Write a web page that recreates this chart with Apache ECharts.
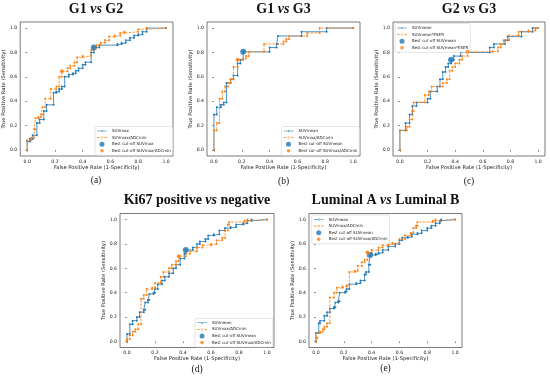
<!DOCTYPE html>
<html><head><meta charset="utf-8">
<script src="https://cdn.jsdelivr.net/npm/echarts@6/dist/echarts.min.js"></script>
<style>html,body{margin:0;padding:0;background:#fff}#c{width:550px;height:376px}</style>
</head><body><div id="c"></div>
<script>
const ticks = [0, 0.2, 0.4, 0.6, 0.8, 1.0];

// (a) G1 vs G2
const aSuvmaxFpr = [0, 0.02, 0.04, 0.07, 0.09, 0.12, 0.14, 0.19, 0.21, 0.23, 0.25, 0.27, 0.30, 0.33, 0.35, 0.37, 0.40, 0.42, 0.46, 0.48, 0.52, 0.65, 0.68, 0.71, 0.74, 0.77, 0.80, 0.83, 0.86, 1.0];
const aSuvmaxTpr = [0.07, 0.09, 0.12, 0.22, 0.25, 0.32, 0.37, 0.47, 0.48, 0.50, 0.52, 0.60, 0.62, 0.63, 0.65, 0.67, 0.70, 0.72, 0.80, 0.84, 0.86, 0.87, 0.88, 0.90, 0.92, 0.94, 0.95, 0.97, 1.0, 1.0];
const aRatioFpr = [0, 0.03, 0.05, 0.06, 0.08, 0.10, 0.11, 0.13, 0.17, 0.21, 0.23, 0.25, 0.29, 0.31, 0.34, 0.36, 0.40, 0.46, 0.48, 0.50, 0.53, 0.56, 0.59, 0.63, 0.67, 0.70, 0.80, 0.86, 1.0];
const aRatioTpr = [0.08, 0.10, 0.17, 0.26, 0.27, 0.29, 0.35, 0.42, 0.50, 0.52, 0.60, 0.645, 0.67, 0.69, 0.72, 0.76, 0.77, 0.82, 0.84, 0.86, 0.88, 0.90, 0.93, 0.94, 0.96, 0.97, 0.99, 1.0, 1.0];
const aCutSuvmax = [0.48, 0.84];
const aCutRatio = [0.25, 0.645];

// (b) G1 vs G3
const bMeanFpr = [0, 0.02, 0.05, 0.07, 0.09, 0.12, 0.14, 0.17, 0.19, 0.21, 0.40, 0.45, 0.46, 0.63, 0.81, 1.0];
const bMeanTpr = [0.29, 0.35, 0.37, 0.39, 0.55, 0.58, 0.61, 0.71, 0.74, 0.805, 0.84, 0.87, 0.935, 0.97, 1.0, 1.0];
const bRatioFpr = [0, 0.02, 0.04, 0.06, 0.08, 0.10, 0.12, 0.14, 0.17, 0.21, 0.23, 0.25, 0.36, 0.50, 0.52, 0.54, 0.67, 0.76, 1.0];
const bRatioTpr = [0.16, 0.22, 0.42, 0.48, 0.52, 0.55, 0.58, 0.68, 0.74, 0.75, 0.77, 0.805, 0.87, 0.89, 0.91, 0.935, 0.96, 1.0, 1.0];
const bCutMean = [0.21, 0.805];
const bCutRatio = [0.17, 0.74];

// (c) G2 vs G3
const cMeanFpr = [0, 0.04, 0.07, 0.09, 0.12, 0.20, 0.22, 0.27, 0.29, 0.31, 0.33, 0.35, 0.37, 0.39, 0.44, 0.65, 0.68, 0.76, 0.78, 0.88, 0.96, 1.0];
const cMeanTpr = [0.16, 0.22, 0.29, 0.36, 0.39, 0.42, 0.48, 0.52, 0.58, 0.64, 0.68, 0.71, 0.74, 0.77, 0.80, 0.84, 0.87, 0.90, 0.93, 0.97, 1.0, 1.0];
const cEserFpr = [0, 0.05, 0.07, 0.09, 0.10, 0.18, 0.21, 0.23, 0.31, 0.34, 0.36, 0.38, 0.40, 0.43, 0.45, 0.49, 0.67, 0.71, 0.73, 0.75, 0.79, 0.86, 0.93, 0.98, 1.0];
const cEserTpr = [0.16, 0.19, 0.25, 0.32, 0.39, 0.45, 0.48, 0.52, 0.55, 0.58, 0.65, 0.68, 0.71, 0.74, 0.77, 0.805, 0.81, 0.84, 0.87, 0.90, 0.94, 0.97, 0.98, 1.0, 1.0];
const cCutMean = [0.37, 0.74];
const cCutEser = [0.49, 0.805];

// (d) Ki67 positive vs negative
const dMeanFpr = [0, 0.02, 0.04, 0.07, 0.09, 0.12, 0.13, 0.15, 0.16, 0.19, 0.20, 0.22, 0.25, 0.27, 0.30, 0.33, 0.35, 0.38, 0.41, 0.42, 0.47, 0.50, 0.52, 0.56, 0.58, 0.62, 0.66, 0.70, 0.74, 0.78, 0.83, 0.86, 0.89, 1.0];
const dMeanTpr = [0.06, 0.14, 0.17, 0.20, 0.24, 0.26, 0.32, 0.34, 0.39, 0.40, 0.43, 0.47, 0.50, 0.53, 0.56, 0.60, 0.63, 0.68, 0.72, 0.75, 0.77, 0.80, 0.82, 0.84, 0.87, 0.88, 0.91, 0.93, 0.94, 0.96, 0.97, 0.99, 1.0, 1.0];
const dRatioFpr = [0, 0.02, 0.04, 0.06, 0.08, 0.10, 0.12, 0.14, 0.18, 0.20, 0.24, 0.26, 0.30, 0.32, 0.35, 0.37, 0.42, 0.45, 0.50, 0.54, 0.60, 0.64, 0.68, 0.70, 0.72, 0.73, 0.84, 0.86, 1.0];
const dRatioTpr = [0.02, 0.05, 0.08, 0.10, 0.14, 0.35, 0.38, 0.43, 0.44, 0.48, 0.53, 0.57, 0.60, 0.63, 0.66, 0.70, 0.72, 0.74, 0.77, 0.79, 0.80, 0.83, 0.85, 0.91, 0.96, 0.98, 0.99, 1.0, 1.0];
const dCutMean = [0.42, 0.75];
const dCutRatio = [0.37, 0.70];

// (e) Luminal A vs Luminal B
const eMeanFpr = [0, 0.02, 0.03, 0.06, 0.08, 0.10, 0.13, 0.14, 0.16, 0.17, 0.21, 0.22, 0.24, 0.29, 0.32, 0.35, 0.36, 0.38, 0.39, 0.43, 0.45, 0.48, 0.52, 0.57, 0.60, 0.62, 0.66, 0.69, 0.73, 0.76, 0.80, 0.83, 0.86, 0.89, 0.90, 1.0];
const eMeanTpr = [0.07, 0.15, 0.17, 0.21, 0.24, 0.27, 0.28, 0.32, 0.33, 0.40, 0.41, 0.43, 0.47, 0.48, 0.50, 0.55, 0.57, 0.63, 0.71, 0.72, 0.73, 0.75, 0.78, 0.80, 0.83, 0.85, 0.86, 0.88, 0.89, 0.91, 0.93, 0.95, 0.97, 0.99, 1.0, 1.0];
const eRatioFpr = [0, 0.01, 0.03, 0.05, 0.06, 0.08, 0.10, 0.13, 0.15, 0.19, 0.22, 0.24, 0.28, 0.30, 0.33, 0.35, 0.37, 0.40, 0.45, 0.48, 0.52, 0.55, 0.60, 0.64, 0.68, 0.70, 0.72, 0.73, 0.84, 0.86, 1.0];
const eRatioTpr = [0.03, 0.07, 0.08, 0.10, 0.12, 0.15, 0.36, 0.40, 0.44, 0.45, 0.46, 0.57, 0.58, 0.62, 0.65, 0.67, 0.73, 0.75, 0.77, 0.79, 0.80, 0.81, 0.84, 0.87, 0.89, 0.93, 0.95, 0.98, 0.99, 1.0, 1.0];
const eCutMean = [0.39, 0.71];
const eCutRatio = [0.37, 0.73];

const BLUE = '#1f77b4', ORANGE = '#ff7f0e';

function rocPoints(fpr, tpr) {
  const pts = [[0, 0]]; let py = 0;
  for (let i = 0; i < fpr.length; i++) {
    const x = fpr[i], y = tpr[i], last = pts[pts.length - 1];
    if (!(last[0] === x && last[1] === py)) pts.push([x, py]);
    if (y !== py) pts.push([x, y]);
    py = y;
  }
  return pts;
}

// legend icons (10 x 5 box)
const ICON_BOX = 'M0,0M10,5';
const DOT = 'M5,2.5m-1,0a1,1 0 1,0 2,0a1,1 0 1,0 -2,0z';
const ICON_SOLID = 'path://' + ICON_BOX + 'M0,2.2h10v0.6h-10z' + DOT;
const ICON_DASH = 'path://' + ICON_BOX + 'M0,2.2h2.6v0.6h-2.6zM3.7,2.2h2.6v0.6h-2.6zM7.4,2.2h2.6v0.6h-2.6z' + DOT;
const ICON_BIG = 'path://' + ICON_BOX + 'M5,2.5m-2.5,0a2.5,2.5 0 1,0 5,0a2.5,2.5 0 1,0 -5,0z';
const ICON_SMALL = 'path://' + ICON_BOX + 'M5,2.5m-1.8,0a1.8,1.8 0 1,0 3.6,0a1.8,1.8 0 1,0 -3.6,0z';

const panels = [
  {l:19, t:22, w:154, h:134, title:'G1 vs G2', tag:'(a)', tagY:180,
   names:['SUVmax','SUVmax/ADCmin','Best cut-off SUVmax','Best cut-off SUVmax/ADCmin'],
   blue:[aSuvmaxFpr,aSuvmaxTpr], orange:[aRatioFpr,aRatioTpr], cuts:[aCutSuvmax,aCutRatio], leg:{left:95, top:126.5}},
  {l:207, t:22, w:153, h:134, title:'G1 vs G3', tag:'(b)', tagY:181,
   names:['SUVmean','SUVmax/ADCmin','Best cut-off SUVmean','Best cut-off SUVmax/ADCmin'],
   blue:[bMeanFpr,bMeanTpr], orange:[bRatioFpr,bRatioTpr], cuts:[bCutMean,bCutRatio], leg:{left:281.5, top:126.5}},
  {l:393, t:22, w:152, h:134, title:'G2 vs G3', tag:'(c)', tagY:181,
   names:['SUVmean','SUVmean*ESER','Best cut-off SUVmean','Best cut-off SUVmean*ESER'],
   blue:[cMeanFpr,cMeanTpr], orange:[cEserFpr,cEserTpr], cuts:[cCutMean,cCutEser], leg:{left:395, top:23.5}},
  {l:120, t:213.5, w:154, h:134, title:'Ki67 positive vs negative', tag:'(d)', tagY:369,
   names:['SUVmean','SUVmax/ADCmin','Best cut-off SUVmean','Best cut-off SUVmax/ADCmin'],
   blue:[dMeanFpr,dMeanTpr], orange:[dRatioFpr,dRatioTpr], cuts:[dCutMean,dCutRatio], leg:{left:195, top:318.3}},
  {l:309, t:213.5, w:153, h:134, title:'Luminal A vs Luminal B', tag:'(e)', tagY:368,
   names:['SUVmean','SUVmax/ADCmin','Best cut-off SUVmean','Best cut-off SUVmax/ADCmin'],
   blue:[eMeanFpr,eMeanTpr], orange:[eRatioFpr,eRatioTpr], cuts:[eCutMean,eCutRatio], leg:{left:311.7, top:215}}
];

const SANS = 'DejaVu Sans', SERIF = 'Liberation Serif';
const option = {animation:false, grid:[], xAxis:[], yAxis:[], series:[], legend:[], graphic:[]};
const tickLabel = {customValues:ticks, formatter:v => v.toFixed(1), fontSize:4.6, color:'#222', fontFamily:SANS, margin:3};
const tickStyle = {show:true, length:1.8, customValues:ticks, lineStyle:{color:'#333', width:0.6}};
const titleRich = {
  b:{fontFamily:SERIF, fontWeight:'bold', fontSize:14, fill:'#111'},
  i:{fontFamily:SERIF, fontWeight:'bold', fontStyle:'italic', fontSize:14, fill:'#111'}
};

panels.forEach((p, i) => {
  option.grid.push({left:p.l, top:p.t, width:p.w, height:p.h, show:true, borderColor:'#444', borderWidth:0.7});
  option.xAxis.push({type:'value', gridIndex:i, min:-0.05, max:1.05, axisLine:{show:false}, splitLine:{show:false},
    axisTick:tickStyle, axisLabel:tickLabel,
    name:'False Positive Rate (1-Specificity)', nameLocation:'middle', nameGap:8.5,
    nameTextStyle:{fontSize:5.2, color:'#222', fontFamily:SANS}});
  option.yAxis.push({type:'value', gridIndex:i, min:-0.05, max:1.05, axisLine:{show:false}, splitLine:{show:false},
    axisTick:tickStyle, axisLabel:tickLabel,
    name:'True Positive Rate (Sensitivity)', nameLocation:'middle', nameGap:10,
    nameTextStyle:{fontSize:5.2, color:'#222', fontFamily:SANS}});
  option.series.push({type:'line', name:p.names[0], xAxisIndex:i, yAxisIndex:i,
    data:rocPoints(p.blue[0], p.blue[1]), symbol:'circle', symbolSize:2, showSymbol:true, showAllSymbol:true,
    lineStyle:{color:BLUE, width:0.8}, itemStyle:{color:BLUE, borderWidth:0}, emphasis:{disabled:true}, z:2});
  option.series.push({type:'line', name:p.names[1], xAxisIndex:i, yAxisIndex:i,
    data:rocPoints(p.orange[0], p.orange[1]), symbol:'circle', symbolSize:2, showSymbol:true, showAllSymbol:true,
    lineStyle:{color:ORANGE, width:0.8, type:[2.6,1.2]}, itemStyle:{color:ORANGE, borderWidth:0}, emphasis:{disabled:true}, z:3});
  option.series.push({type:'scatter', name:p.names[2], xAxisIndex:i, yAxisIndex:i,
    data:[p.cuts[0]], symbol:'circle', symbolSize:6, itemStyle:{color:BLUE, borderWidth:0}, emphasis:{disabled:true}, z:4});
  option.series.push({type:'scatter', name:p.names[3], xAxisIndex:i, yAxisIndex:i,
    data:[p.cuts[1]], symbol:'circle', symbolSize:4, itemStyle:{color:ORANGE, borderWidth:0}, emphasis:{disabled:true}, z:5});
  const icons = [ICON_SOLID, ICON_DASH, ICON_BIG, ICON_SMALL];
  option.legend.push({orient:'vertical', left:p.leg.left, top:p.leg.top,
    data:p.names.map((n, k) => ({name:n, icon:icons[k]})),
    itemWidth:10, itemHeight:5, itemGap:1.6, padding:[2,2], selectedMode:false,
    itemStyle:{borderWidth:0},
    borderColor:'#d4d4d4', borderWidth:0.6, borderRadius:2, backgroundColor:'rgba(255,255,255,0.8)',
    textStyle:{fontSize:4.0, color:'#222', fontFamily:SANS}});
  const parts = p.title.split(' vs ');
  option.graphic.push({type:'text', x:p.l + p.w / 2, y:(i < 3 ? 9.5 : 200),
    style:{text:'{b|' + parts[0] + ' }{i|vs}{b| ' + parts[1] + '}', rich:titleRich, align:'center', verticalAlign:'middle'}});
  option.graphic.push({type:'text', x:p.l + p.w / 2, y:p.tagY,
    style:{text:p.tag, fontFamily:SERIF, fontSize:9.5, fill:'#111', align:'center', verticalAlign:'middle'}});
});

const chart = echarts.init(document.getElementById('c'), null, {renderer:'canvas'});
chart.setOption(option);
</script>
</body></html>
